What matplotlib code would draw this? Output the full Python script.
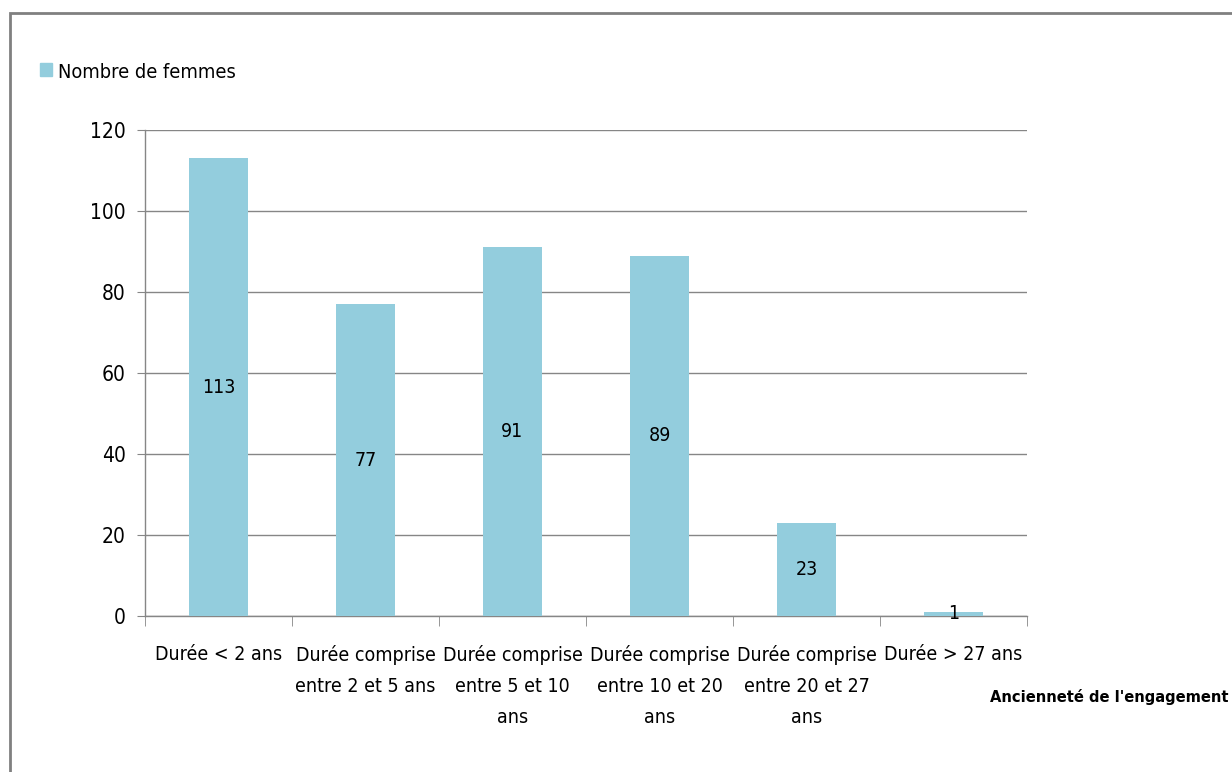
import matplotlib.pyplot as plt
from matplotlib.patches import Rectangle

plt.rcParams['font.family'] = ['DejaVu Sans']
plt.rcParams['font.stretch'] = 'condensed'

# données
categories = ['Durée < 2 ans',
              'Durée comprise\nentre 2 et 5 ans',
              'Durée comprise\nentre 5 et 10\nans',
              'Durée comprise\nentre 10 et 20\nans',
              'Durée comprise\nentre 20 et 27\nans',
              'Durée > 27 ans']
femmes = [113, 77, 91, 89, 23, 1]
yticks = [0, 20, 40, 60, 80, 100, 120]

bar_color = '#93CDDD'
grid_color = '#868686'

fig = plt.figure(figsize=(12.32, 7.72), dpi=100)
ax = fig.add_axes([145 / 1232, 1 - 616 / 772, 882 / 1232, 486 / 772])

x = list(range(len(categories)))
bars = ax.bar(x, femmes, width=0.4, color=bar_color, zorder=3)

# étiquettes au centre des barres
for b, v in zip(bars, femmes):
    ax.text(b.get_x() + b.get_width() / 2, v / 2, str(v),
            ha='center', va='center', fontsize=14, color='black', zorder=4)

ax.set_xlim(-0.5, len(categories) - 0.5)
ax.set_ylim(0, 120)
ax.set_yticks(yticks)
ax.tick_params(axis='y', labelsize=15, length=6, color=grid_color, pad=8)
ax.yaxis.grid(True, color=grid_color, linewidth=1, zorder=0)
ax.set_axisbelow(True)

# graduations entre les catégories
ax.set_xticks(x)
ax.set_xticklabels(categories, fontsize=14, linespacing=1.8)
ax.tick_params(axis='x', length=0, pad=21)
ax.set_xticks([i - 0.5 for i in range(len(categories) + 1)], minor=True)
ax.tick_params(axis='x', which='minor', length=7, color=grid_color)

for s in ['top', 'right']:
    ax.spines[s].set_visible(False)
for s in ['left', 'bottom']:
    ax.spines[s].set_color(grid_color)
    ax.spines[s].set_linewidth(1)

# légende
fig.patches.append(Rectangle((40 / 1232, 1 - 76 / 772), 12 / 1232, 13 / 772,
                             transform=fig.transFigure, color=bar_color))
fig.text(58 / 1232, 1 - 72 / 772, 'Nombre de femmes', fontsize=14.3,
         ha='left', va='center')

# titre de l'axe
fig.text(1228 / 1232, 1 - 697 / 772, "Ancienneté de l'engagement", fontsize=11.8,
         fontweight='bold', ha='right', va='center')

# cadre
fig.patches.append(Rectangle((10 / 1232, -0.05), 1.1, 1 - 13 / 772 + 0.05,
                             transform=fig.transFigure, fill=False,
                             edgecolor='#808080', linewidth=2))

fig.savefig('out.png', dpi=100)
